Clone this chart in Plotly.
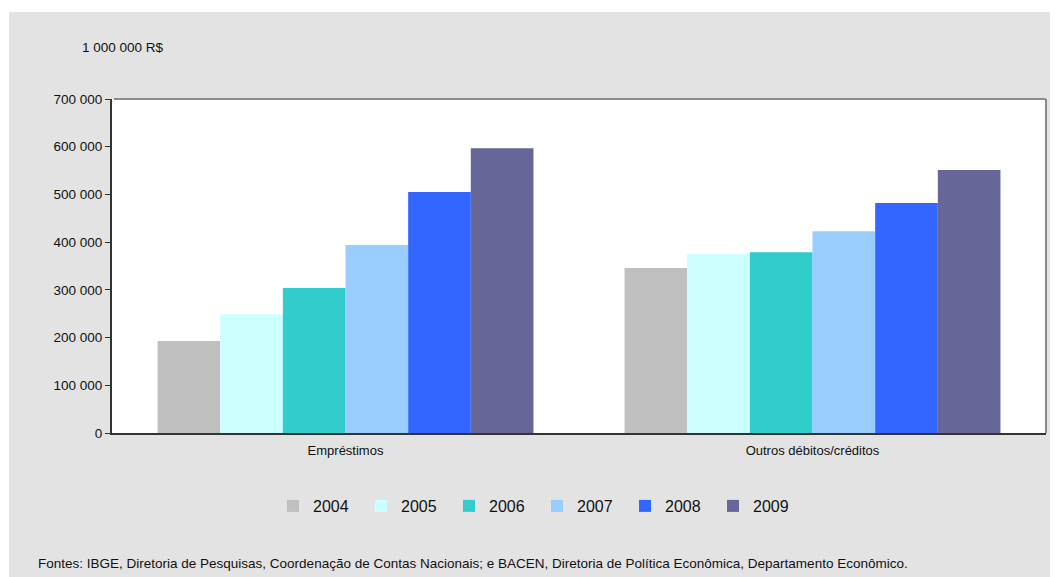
import plotly.graph_objects as go

categories = ["Empréstimos", "Outros débitos/créditos"]
years = ["2004", "2005", "2006", "2007", "2008", "2009"]
values = {
    "2004": [193000, 346000],
    "2005": [249000, 375000],
    "2006": [304000, 379000],
    "2007": [394000, 423000],
    "2008": [505000, 482000],
    "2009": [597000, 551000],
}
colors = ["#c0c0c0", "#ccffff", "#33cccc", "#99ccff", "#3366ff", "#666699"]
tick_vals = [0, 100000, 200000, 300000, 400000, 500000, 600000, 700000]
tick_text = ["0", "100 000", "200 000", "300 000", "400 000", "500 000", "600 000", "700 000"]
unit_label = "1 000 000 R$"
source_text = ("Fontes: IBGE, Diretoria de Pesquisas, Coordenação de Contas Nacionais; e BACEN, "
               "Diretoria de Política Econômica, Departamento Econômico.")

fig = go.Figure()
for y, c in zip(years, colors):
    fig.add_trace(go.Bar(name=y, x=categories, y=values[y], marker=dict(color=c, line=dict(width=0))))

# page body has an 8px margin; the figure is drawn offset by OFF
OFF = 8
W, H = 1058 - OFF, 577 - OFF
L, R, T, B = 112 - OFF, 12, 99 - OFF, 144
pw, ph = W - L - R, H - T - B

def px(x):
    return (x - OFF - L) / pw

def py(y):
    return (H - B - (y - OFF)) / ph

fig.update_layout(
    width=W, height=H,
    margin=dict(l=L, r=R, t=T, b=B),
    paper_bgcolor="#e3e3e3",
    plot_bgcolor="#ffffff",
    barmode="group",
    bargap=0.195,
    bargroupgap=0,
    font=dict(family="Liberation Sans, Arial, sans-serif", color="#111111", size=13),
    legend=dict(orientation="h", x=px(537), y=py(506), xanchor="center", yanchor="middle",
                font=dict(size=16), bgcolor="rgba(0,0,0,0)", itemwidth=30,
                entrywidth=43, entrywidthmode="pixels", traceorder="normal"),
    xaxis=dict(showline=True, linecolor="#333333", linewidth=2, ticks="", showgrid=False,
               tickfont=dict(size=13), ticklabelstandoff=4),
    yaxis=dict(range=[0, 700000], tickvals=tick_vals, ticktext=tick_text, showgrid=False,
               showline=True, linecolor="#333333", linewidth=2, ticks="outside", ticklen=5,
               tickcolor="#333333", zeroline=False, tickfont=dict(size=13.5)),
    shapes=[
        dict(type="rect", xref="paper", yref="paper", x0=px(0), x1=px(1100), y0=py(0), y1=py(12),
             fillcolor="#ffffff", line=dict(width=0), layer="below"),
        dict(type="rect", xref="paper", yref="paper", x0=px(0), x1=px(9), y0=py(0), y1=py(600),
             fillcolor="#ffffff", line=dict(width=0), layer="below"),
        dict(type="line", xref="paper", yref="paper", x0=px(114), x1=1, y0=1, y1=1,
             line=dict(color="#8a8a8a", width=2)),
        dict(type="line", xref="paper", yref="paper", x0=1, x1=1, y0=0, y1=1,
             line=dict(color="#8a8a8a", width=2)),
    ],
    annotations=[
        dict(text=unit_label, xref="paper", yref="paper", x=px(80), y=py(47),
             xanchor="left", yanchor="middle", showarrow=False, font=dict(size=13.5)),
        dict(text=source_text, xref="paper", yref="paper", x=px(36), y=py(563),
             xanchor="left", yanchor="middle", showarrow=False, font=dict(size=13.5)),
    ],
)

fig.write_html("out.html")
